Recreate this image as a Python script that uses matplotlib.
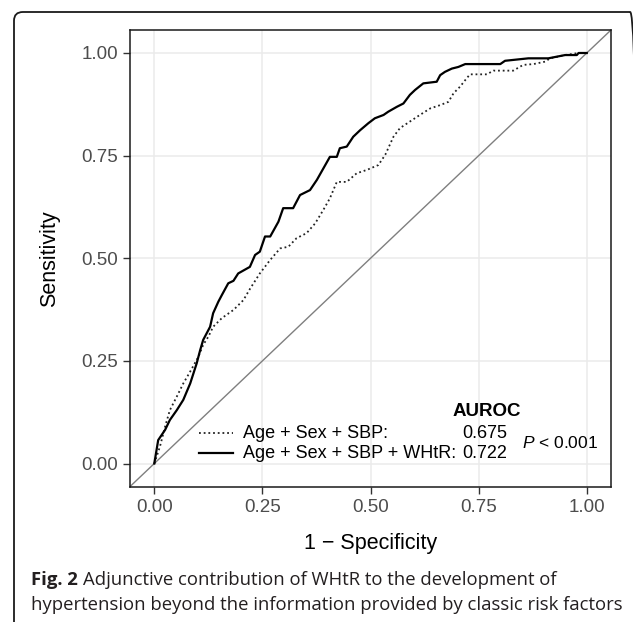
import matplotlib
matplotlib.use("Agg")
import matplotlib.pyplot as plt
from matplotlib.patches import FancyBboxPatch
from matplotlib.lines import Line2D

# ---- data ----
fpr_base = [0.0, 0.013, 0.025, 0.036, 0.052, 0.067, 0.083, 0.102, 0.113, 0.125, 0.136,
            0.156, 0.183, 0.206, 0.221, 0.244, 0.268, 0.291, 0.310, 0.329, 0.352, 0.372,
            0.391, 0.406, 0.422, 0.445, 0.468, 0.491, 0.518, 0.534, 0.553, 0.568, 0.591,
            0.614, 0.638, 0.661, 0.680, 0.692, 0.707, 0.722, 0.730, 0.769, 0.784, 0.830,
            0.853, 0.877, 0.904, 0.915, 0.950, 0.981, 1.0]
tpr_base = [0.0, 0.041, 0.090, 0.130, 0.163, 0.195, 0.224, 0.260, 0.289, 0.309, 0.333,
            0.354, 0.374, 0.398, 0.425, 0.463, 0.496, 0.524, 0.528, 0.549, 0.561, 0.585,
            0.618, 0.646, 0.686, 0.686, 0.707, 0.715, 0.727, 0.752, 0.796, 0.817, 0.833,
            0.849, 0.865, 0.873, 0.881, 0.902, 0.918, 0.938, 0.948, 0.948, 0.957, 0.957,
            0.971, 0.973, 0.979, 0.987, 0.995, 1.0, 1.0]

fpr_whtr = [0.0, 0.009, 0.025, 0.036, 0.052, 0.067, 0.083, 0.098, 0.106, 0.113, 0.129,
            0.136, 0.148, 0.156, 0.171, 0.183, 0.194, 0.221, 0.233, 0.244, 0.256, 0.268,
            0.287, 0.298, 0.321, 0.337, 0.360, 0.376, 0.391, 0.406, 0.422, 0.429, 0.445,
            0.460, 0.476, 0.495, 0.510, 0.530, 0.541, 0.561, 0.576, 0.591, 0.603, 0.622,
            0.653, 0.661, 0.672, 0.688, 0.703, 0.719, 0.800, 0.811, 0.865, 0.911, 0.950,
            0.977, 0.981, 1.0]
tpr_whtr = [0.0, 0.057, 0.082, 0.106, 0.130, 0.155, 0.195, 0.244, 0.276, 0.301, 0.333,
            0.366, 0.394, 0.410, 0.439, 0.445, 0.463, 0.479, 0.508, 0.516, 0.553, 0.553,
            0.589, 0.622, 0.622, 0.654, 0.666, 0.691, 0.719, 0.747, 0.747, 0.768, 0.772,
            0.796, 0.812, 0.829, 0.841, 0.849, 0.857, 0.869, 0.877, 0.898, 0.910, 0.926,
            0.930, 0.946, 0.954, 0.962, 0.966, 0.973, 0.973, 0.981, 0.987, 0.987, 0.995,
            0.995, 1.0, 1.0]

ticks = [0.00, 0.25, 0.50, 0.75, 1.00]
tick_labels = ["0.00", "0.25", "0.50", "0.75", "1.00"]
model_labels = ["Age + Sex + SBP:", "Age + Sex + SBP + WHtR:"]
auroc = ["0.675", "0.722"]
pval_text = r"$\it{P}$ < 0.001"
caption_bold = "Fig. 2"
caption_1 = "Adjunctive contribution of WHtR to the development of"
caption_2 = "hypertension beyond the information provided by classic risk factors"

W, H = 633, 622
plt.rcParams["font.family"] = ["Liberation Sans", "DejaVu Sans"]
plt.rcParams["mathtext.fontset"] = "custom"
plt.rcParams["mathtext.it"] = "Liberation Sans:italic"
plt.rcParams["mathtext.rm"] = "Liberation Sans"

fig = plt.figure(figsize=(W / 100, H / 100), dpi=100)
fig.patch.set_facecolor("white")

# rounded border box (extends past right/bottom edges)
box = FancyBboxPatch((14 / W, 1 - 700 / H), (639 - 14) / W, (700 - 12) / H,
                     boxstyle="round,pad=0,rounding_size=0.014",
                     transform=fig.transFigure, fill=False, edgecolor="#1a1a1a",
                     linewidth=1.3, zorder=0)
fig.patches.append(box)

ax_l, ax_r, ax_t, ax_b = 130.3, 611.0, 30.0, 486.7
ax = fig.add_axes([ax_l / W, 1 - ax_b / H, (ax_r - ax_l) / W, (ax_b - ax_t) / H])
ax.set_xlim(-0.0555, 1.056)
ax.set_ylim(-0.0565, 1.056)

ax.set_xticks(ticks)
ax.set_xticklabels(tick_labels)
ax.set_yticks(ticks)
ax.set_yticklabels(tick_labels)
ax.grid(True, color="#ebebeb", linewidth=1.1)
ax.set_axisbelow(True)
for s in ax.spines.values():
    s.set_color("#1a1a1a")
    s.set_linewidth(1.1)
ax.tick_params(axis="both", direction="out", length=5, width=1.0, color="#333333",
               labelsize=13.5, labelcolor="#4d4d4d", pad=4)

# diagonal reference
ax.axline((0, 0), slope=1, color="#7f7f7f", linewidth=1.0, zorder=2)

ax.plot(fpr_base, tpr_base, color="#222222", linewidth=1.3,
        linestyle=(0, (1, 1.6)), zorder=3)
ax.plot(fpr_whtr, tpr_whtr, color="black", linewidth=1.6, zorder=4)

ax.set_xlabel("1 \u2212 Specificity", fontsize=15.5, color="black")
ax.set_ylabel("Sensitivity", fontsize=15.5, color="black")
ax.xaxis.set_label_coords(0.5, (ax_b - 543) / (ax_b - ax_t))
ax.xaxis.label.set_verticalalignment("center")
ax.yaxis.set_label_coords((49.6 - ax_l) / (ax_r - ax_l), 0.5)
ax.yaxis.label.set_verticalalignment("center")

# legend (manual layout)
row_y = [0.0736, 0.0244]
styles = [dict(color="#222222", linewidth=1.3, linestyle=(0, (1, 1.6))),
          dict(color="black", linewidth=1.6, linestyle="-")]
for yy, lab, val, st in zip(row_y, model_labels, auroc, styles):
    ax.add_line(Line2D([0.1034, 0.182], [yy, yy], **st))
    ax.text(0.206, yy, lab, fontsize=13, va="center", ha="left", color="black")
    ax.text(0.815, yy, val, fontsize=13, va="center", ha="right", color="black")
ax.text(0.769, 0.126, "AUROC", fontsize=13.5, fontweight="bold", va="center",
        ha="center", color="black")
ax.text(0.850, 0.049, pval_text, fontsize=12.5, va="center", ha="left", color="black")

# caption
cap_font = ["Open Sans", "DejaVu Sans"]
cap_size = 13.3
t1 = fig.text(31 / W, 1 - 580 / H, caption_bold, fontsize=cap_size, fontweight="bold",
              family=cap_font, va="center", ha="left", color="#231f20")
plt.annotate(caption_1, xy=(1, 0), xycoords=t1, xytext=(3.5, 0),
             textcoords="offset points", va="bottom", ha="left",
             fontsize=cap_size, family=cap_font, color="#231f20",
             annotation_clip=False)
fig.text(31 / W, 1 - 605 / H, caption_2, fontsize=cap_size, family=cap_font,
         va="center", ha="left", color="#231f20")

fig.savefig("out.png", dpi=100, facecolor="white")
